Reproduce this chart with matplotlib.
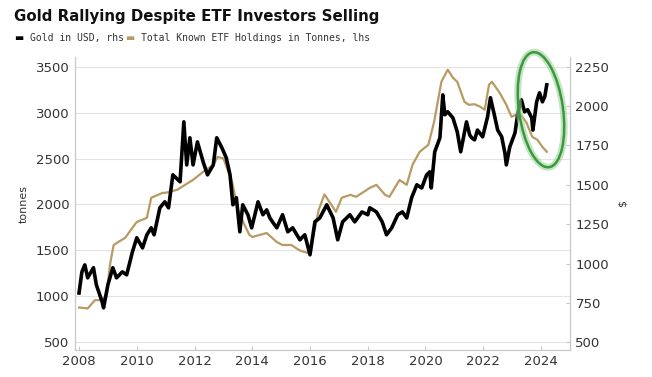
import matplotlib
matplotlib.use("Agg")
import matplotlib.pyplot as plt
from matplotlib.patches import Ellipse
from matplotlib.transforms import ScaledTranslation

# Total known ETF holdings, tonnes (lhs)
etf_years = [2008.0, 2008.3, 2008.55, 2008.7, 2008.95, 2009.07, 2009.2, 2009.4, 2009.6,
             2009.85, 2010.0, 2010.35, 2010.5, 2010.9, 2011.0, 2011.4, 2011.95, 2012.3,
             2012.65, 2012.8, 2013.0, 2013.3, 2013.5, 2013.7, 2013.9, 2014.0, 2014.5,
             2014.85, 2015.05, 2015.35, 2015.65, 2015.9, 2016.0, 2016.3, 2016.5, 2016.9,
             2017.1, 2017.4, 2017.6, 2018.07, 2018.3, 2018.6, 2018.75, 2019.1, 2019.35,
             2019.55, 2019.8, 2020.1, 2020.3, 2020.55, 2020.77, 2020.95, 2021.1, 2021.35,
             2021.5, 2021.7, 2021.9, 2022.05, 2022.2, 2022.3, 2022.57, 2022.8, 2022.98,
             2023.26, 2023.5, 2023.7, 2023.88, 2024.05, 2024.2]
etf_tonnes = [880, 870, 960, 960, 1000, 1343, 1560, 1600, 1638,
              1747, 1810, 1855, 2073, 2127, 2127, 2160, 2268, 2355,
              2430, 2517, 2500, 2250, 1950, 1800, 1670, 1647, 1690,
              1592, 1560, 1560, 1500, 1475, 1485, 1940, 2110, 1920,
              2073, 2105, 2084, 2180, 2214, 2105, 2084, 2266, 2214,
              2432, 2573, 2649, 2900, 3334, 3465, 3378, 3334, 3116,
              3084, 3090, 3062, 3030, 3301, 3334, 3214, 3084, 2953,
              2996, 2888, 2735, 2702, 2626, 2573]

# Gold price, USD (rhs)
gold_years = [2008.0, 2008.1, 2008.2, 2008.3, 2008.5, 2008.6, 2008.8, 2008.85, 2009.0,
              2009.17, 2009.3, 2009.5, 2009.65, 2009.85, 2010.0, 2010.2, 2010.35, 2010.5,
              2010.6, 2010.8, 2010.97, 2011.1, 2011.25, 2011.5, 2011.63, 2011.73, 2011.84,
              2011.95, 2012.1, 2012.3, 2012.45, 2012.65, 2012.77, 2012.95, 2013.1, 2013.23,
              2013.33, 2013.45, 2013.57, 2013.67, 2013.85, 2013.98, 2014.2, 2014.37, 2014.5,
              2014.61, 2014.7, 2014.85, 2015.05, 2015.23, 2015.4, 2015.65, 2015.82, 2016.0,
              2016.17, 2016.34, 2016.58, 2016.8, 2016.96, 2017.13, 2017.38, 2017.55, 2017.8,
              2018.0, 2018.07, 2018.3, 2018.5, 2018.65, 2018.83, 2019.04, 2019.2, 2019.35,
              2019.52, 2019.7, 2019.87, 2020.04, 2020.15, 2020.2, 2020.32, 2020.5, 2020.6,
              2020.67, 2020.77, 2020.95, 2021.1, 2021.22, 2021.42, 2021.53, 2021.6, 2021.7,
              2021.8, 2021.98, 2022.15, 2022.25, 2022.4, 2022.5, 2022.64, 2022.75, 2022.8,
              2022.92, 2023.1, 2023.2, 2023.32, 2023.43, 2023.54, 2023.68, 2023.72, 2023.85,
              2023.95, 2024.05, 2024.13, 2024.2]
gold_usd = [814, 948, 992, 910, 974, 866, 758, 720, 866,
            974, 910, 948, 929, 1075, 1164, 1100, 1183, 1227,
            1183, 1354, 1392, 1354, 1563, 1519, 1899, 1626, 1798,
            1626, 1772, 1645, 1563, 1626, 1798, 1734, 1671, 1563,
            1373, 1418, 1202, 1373, 1310, 1227, 1392, 1310, 1341,
            1290, 1265, 1227, 1310, 1202, 1227, 1151, 1183, 1056,
            1265, 1290, 1373, 1290, 1151, 1265, 1310, 1265, 1328,
            1310, 1354, 1328, 1265, 1183, 1227, 1310, 1328, 1290,
            1418, 1500, 1480, 1563, 1582, 1480, 1709, 1798, 2070,
            1944, 1963, 1924, 1836, 1709, 1899, 1817, 1798, 1785,
            1847, 1804, 1931, 2052, 1931, 1847, 1804, 1702, 1626,
            1740, 1829, 1956, 2039, 1963, 1976, 1924, 1847, 2026,
            2083, 2026, 2058, 2134]

left_ticks = [500, 1000, 1500, 2000, 2500, 3000, 3500]
right_ticks = [500, 750, 1000, 1250, 1500, 1750, 2000, 2250]
year_ticks = [2008, 2010, 2012, 2014, 2016, 2018, 2020, 2022, 2024]

TAN = '#b89a62'
SPINE = '#c8c8c8'
TXT = '#333333'

fig = plt.figure(figsize=(6.52, 3.77), dpi=100)
ax = fig.add_axes([0.115, 0.072, 0.759, 0.776])
ax2 = ax.twinx()

ylo, yhi = 420, 3600
ax.set_ylim(ylo, yhi)
# rhs aligned so that 500 <-> 500 and 2250 <-> 3500
scale = 1750 / 3000
ax2.set_ylim(500 + (ylo - 500) * scale, 500 + (yhi - 500) * scale)
ax.set_xlim(2007.86, 2025.0)

ax.plot(etf_years, etf_tonnes, color=TAN, lw=1.6, zorder=2)
ax2.plot(gold_years, gold_usd, color='black', lw=2.6, zorder=3)

ax.set_yticks(left_ticks)
ax2.set_yticks(right_ticks)
ax.set_xticks(year_ticks)
ax.grid(axis='y', color='#e3e3e3', lw=0.8)
ax.set_axisbelow(True)

for a in (ax, ax2):
    a.spines['top'].set_visible(False)
    for s in ('left', 'right', 'bottom'):
        a.spines[s].set_color(SPINE)
    a.tick_params(direction='in', length=3, color=SPINE, labelsize=9.5,
                  labelcolor=TXT, pad=4)
ax.tick_params(axis='y', length=0)
ax.set_ylabel('tonnes', fontsize=8, color=TXT, labelpad=5)
ax2.set_ylabel('$', fontsize=8, color=TXT, rotation=90, labelpad=6)

# green highlight ellipse round the latest divergence
offset = ScaledTranslation(2024.0, 3030, ax.transData)
for lw, col, al in [(5, '#9fd39f', 0.6), (1.8, '#3a9a3a', 1.0)]:
    ax2.add_patch(Ellipse((0, 0), width=0.44, height=1.16, angle=8, fill=False,
                          lw=lw, edgecolor=col, alpha=al, clip_on=False,
                          transform=fig.dpi_scale_trans + offset, zorder=5))

fig.text(0.021, 0.955, 'Gold Rallying Despite ETF Investors Selling',
         fontsize=10.8, fontweight='heavy', color='#111111', va='center')
fig.text(0.021, 0.898, '\u25ac', fontsize=7, color='black', va='center')
fig.text(0.046, 0.898, 'Gold in USD, rhs', fontsize=7, family='DejaVu Sans Mono',
         color=TXT, va='center')
fig.text(0.192, 0.898, '\u25ac', fontsize=7, color=TAN, va='center')
fig.text(0.217, 0.898, 'Total Known ETF Holdings in Tonnes, lhs', fontsize=7,
         family='DejaVu Sans Mono', color=TXT, va='center')

fig.savefig('out.png', dpi=100)
